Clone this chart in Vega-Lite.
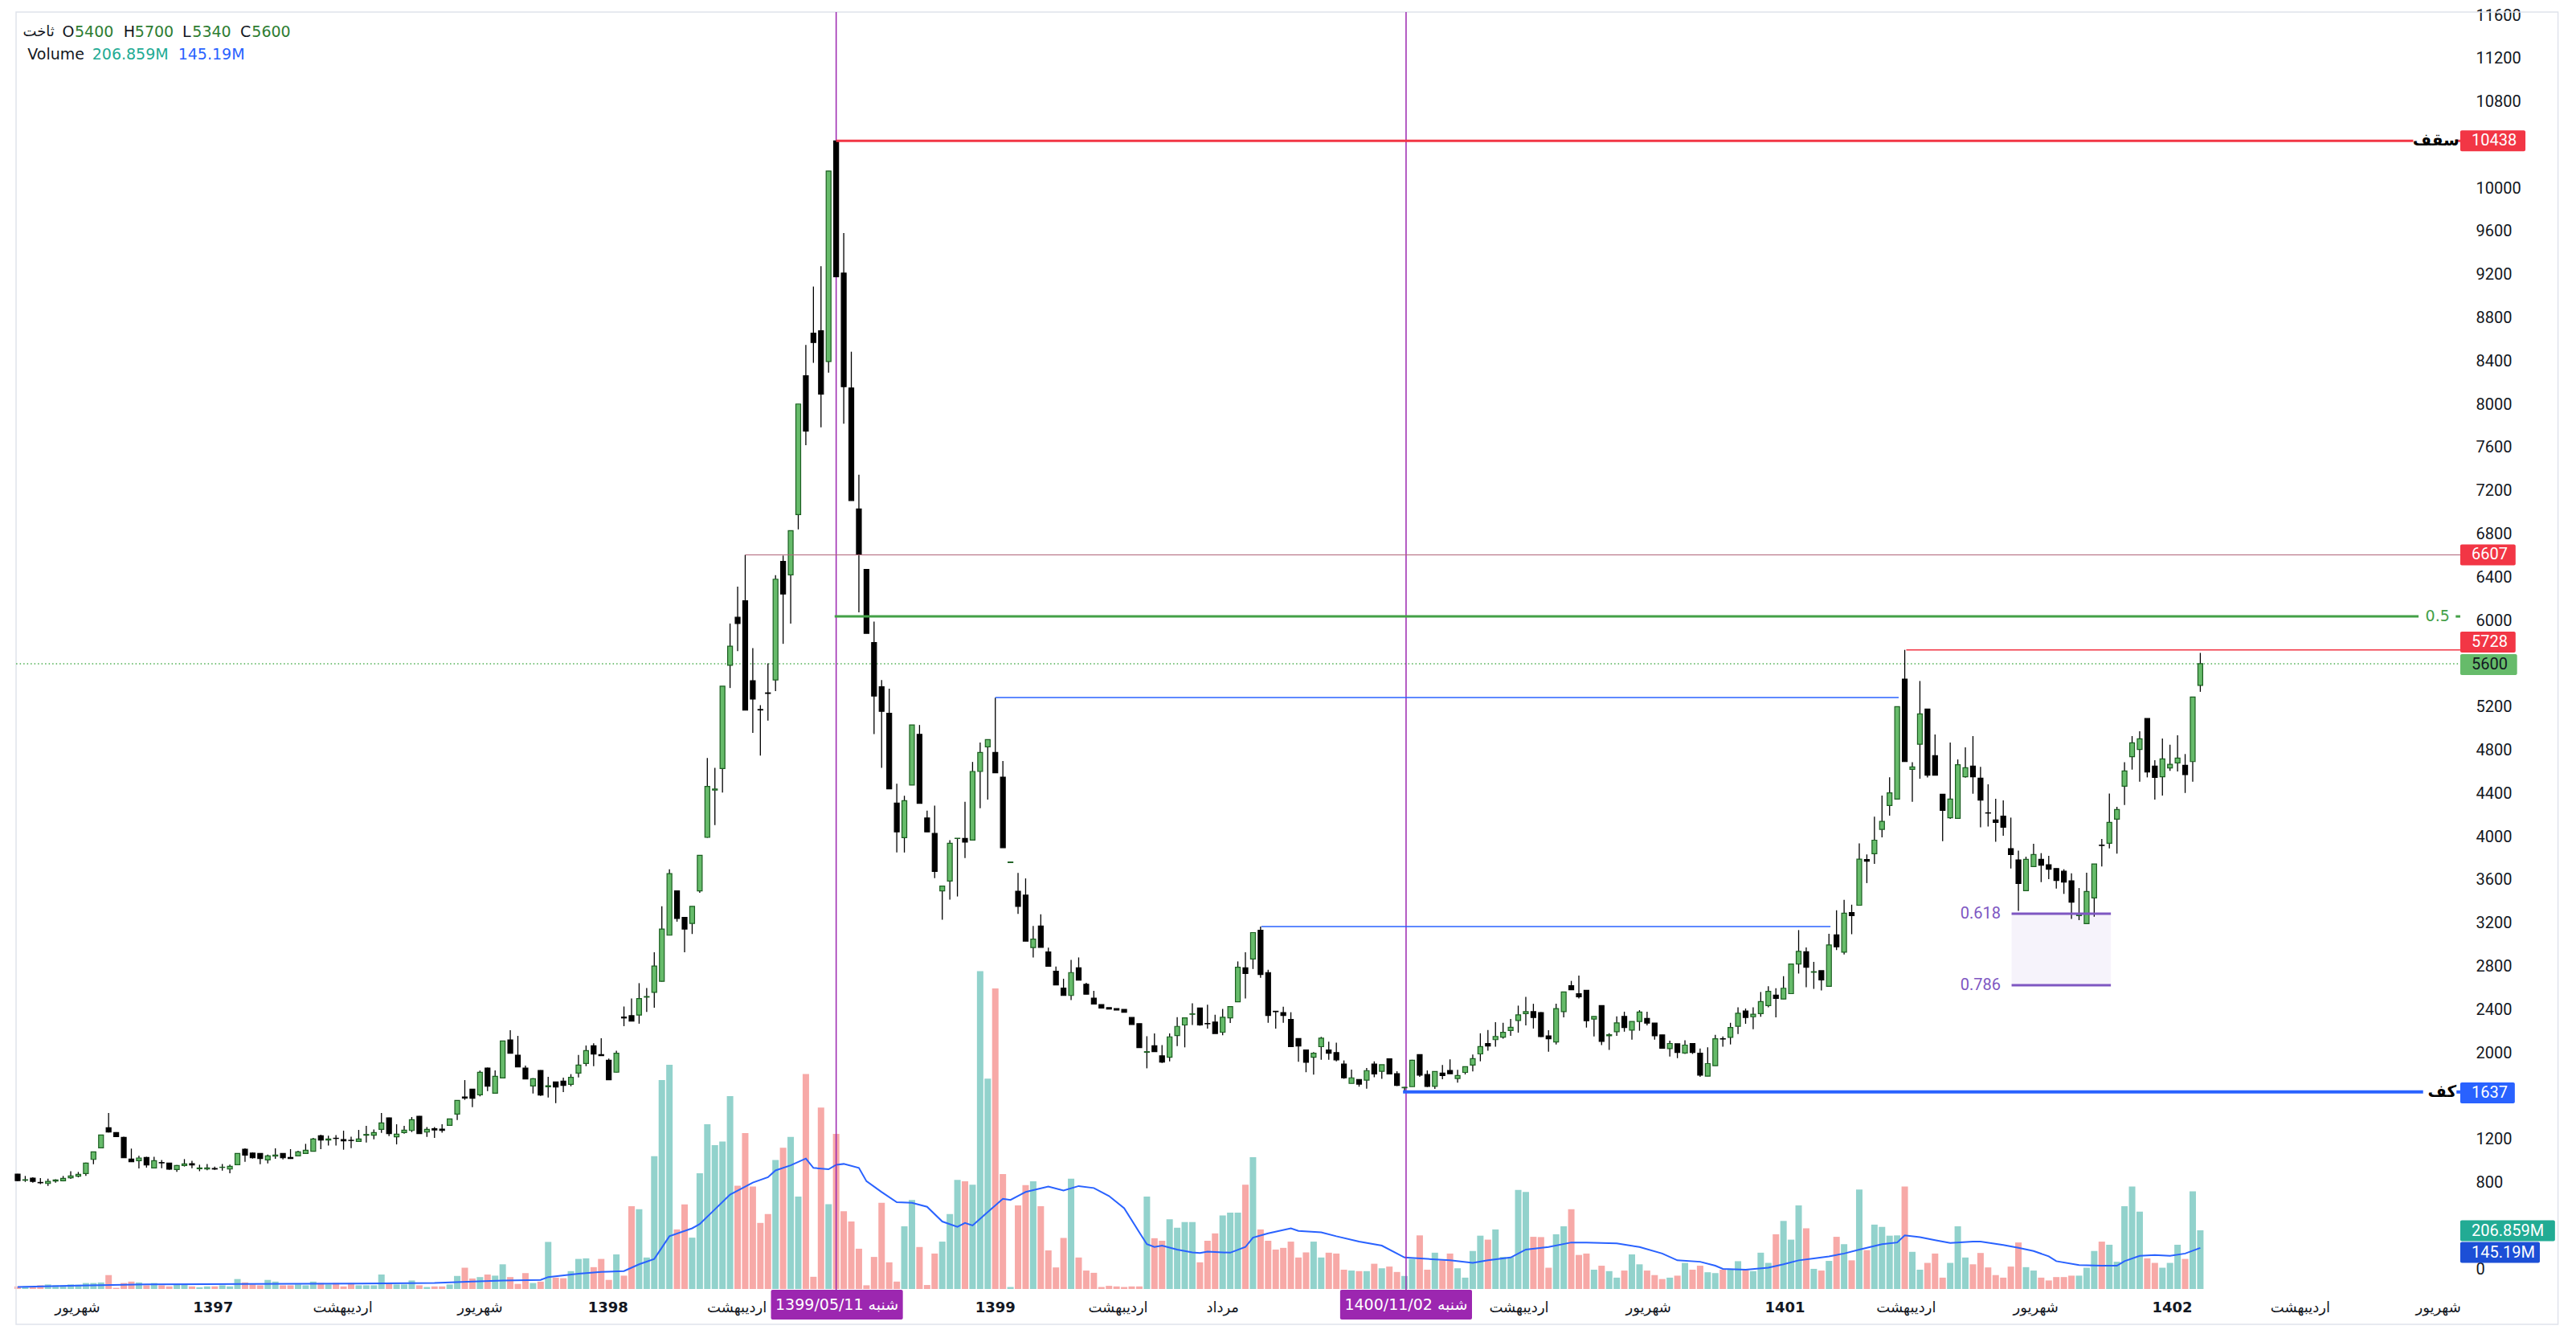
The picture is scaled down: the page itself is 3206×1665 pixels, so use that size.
{
"$schema": "https://vega.github.io/schema/vega-lite/v6.json",
"width": 3051,
"height": 1589,
"autosize": {"type": "none"},
"padding": {"left": 15, "top": 15, "right": 140, "bottom": 61},
"background": "#ffffff",
"config": {"view": {"stroke": null}},
"datasets": {
"candles": [
{"i":0,"o":877,"h":880,"l":812,"c":817,"v":9},
{"i":1,"o":820,"h":860,"l":805,"c":825,"v":9},
{"i":2,"o":840,"h":848,"l":798,"c":810,"v":9},
{"i":3,"o":800,"h":840,"l":785,"c":797,"v":13},
{"i":4,"o":790,"h":835,"l":768,"c":810,"v":16},
{"i":5,"o":813,"h":830,"l":798,"c":823,"v":13},
{"i":6,"o":815,"h":860,"l":810,"c":838,"v":13},
{"i":7,"o":843,"h":904,"l":833,"c":860,"v":16},
{"i":8,"o":858,"h":897,"l":847,"c":875,"v":15},
{"i":9,"o":882,"h":984,"l":860,"c":979,"v":21},
{"i":10,"o":1013,"h":1083,"l":969,"c":1083,"v":21},
{"i":11,"o":1120,"h":1240,"l":1118,"c":1239,"v":23},
{"i":12,"o":1306,"h":1442,"l":1262,"c":1266,"v":49},
{"i":13,"o":1261,"h":1265,"l":1224,"c":1224,"v":4},
{"i":14,"o":1217,"h":1224,"l":1028,"c":1028,"v":21},
{"i":15,"o":1016,"h":1113,"l":991,"c":991,"v":26},
{"i":16,"o":1001,"h":1046,"l":929,"c":1026,"v":23},
{"i":17,"o":1031,"h":1038,"l":937,"c":961,"v":13},
{"i":18,"o":934,"h":1038,"l":934,"c":1001,"v":21},
{"i":19,"o":984,"h":1008,"l":932,"c":981,"v":13},
{"i":20,"o":979,"h":982,"l":917,"c":922,"v":9},
{"i":21,"o":919,"h":961,"l":897,"c":956,"v":16},
{"i":22,"o":956,"h":1016,"l":947,"c":971,"v":16},
{"i":23,"o":974,"h":1001,"l":932,"c":961,"v":9},
{"i":24,"o":927,"h":964,"l":904,"c":934,"v":6},
{"i":25,"o":924,"h":971,"l":912,"c":934,"v":9},
{"i":26,"o":929,"h":947,"l":917,"c":924,"v":9},
{"i":27,"o":939,"h":971,"l":909,"c":941,"v":13},
{"i":28,"o":924,"h":964,"l":884,"c":949,"v":9},
{"i":29,"o":964,"h":1070,"l":962,"c":1068,"v":35},
{"i":30,"o":1108,"h":1115,"l":991,"c":1053,"v":23},
{"i":31,"o":1071,"h":1078,"l":1021,"c":1028,"v":16},
{"i":32,"o":1068,"h":1070,"l":969,"c":1021,"v":13},
{"i":33,"o":1008,"h":1058,"l":976,"c":1046,"v":32},
{"i":34,"o":1043,"h":1115,"l":1018,"c":1053,"v":26},
{"i":35,"o":1068,"h":1070,"l":1013,"c":1028,"v":13},
{"i":36,"o":1031,"h":1108,"l":1018,"c":1021,"v":13},
{"i":37,"o":1046,"h":1093,"l":1043,"c":1083,"v":16},
{"i":38,"o":1068,"h":1157,"l":1066,"c":1098,"v":13},
{"i":39,"o":1088,"h":1212,"l":1086,"c":1202,"v":26},
{"i":40,"o":1232,"h":1242,"l":1108,"c":1192,"v":21},
{"i":41,"o":1192,"h":1232,"l":1142,"c":1202,"v":16},
{"i":42,"o":1209,"h":1239,"l":1142,"c":1207,"v":21},
{"i":43,"o":1197,"h":1279,"l":1103,"c":1185,"v":9},
{"i":44,"o":1190,"h":1224,"l":1118,"c":1188,"v":21},
{"i":45,"o":1180,"h":1286,"l":1177,"c":1202,"v":13},
{"i":46,"o":1237,"h":1323,"l":1170,"c":1244,"v":13},
{"i":47,"o":1237,"h":1291,"l":1199,"c":1261,"v":13},
{"i":48,"o":1291,"h":1442,"l":1259,"c":1351,"v":51},
{"i":49,"o":1398,"h":1400,"l":1229,"c":1252,"v":21},
{"i":50,"o":1222,"h":1338,"l":1152,"c":1247,"v":16},
{"i":51,"o":1261,"h":1323,"l":1252,"c":1284,"v":16},
{"i":52,"o":1281,"h":1405,"l":1266,"c":1380,"v":30},
{"i":53,"o":1413,"h":1415,"l":1252,"c":1252,"v":13},
{"i":54,"o":1266,"h":1313,"l":1222,"c":1291,"v":7},
{"i":55,"o":1296,"h":1313,"l":1212,"c":1286,"v":9},
{"i":56,"o":1294,"h":1338,"l":1261,"c":1281,"v":9},
{"i":57,"o":1328,"h":1390,"l":1326,"c":1388,"v":16},
{"i":58,"o":1432,"h":1560,"l":1378,"c":1559,"v":46},
{"i":59,"o":1591,"h":1747,"l":1564,"c":1581,"v":75},
{"i":60,"o":1663,"h":1665,"l":1497,"c":1579,"v":37},
{"i":61,"o":1611,"h":1834,"l":1596,"c":1819,"v":42},
{"i":62,"o":1859,"h":1862,"l":1646,"c":1690,"v":51},
{"i":63,"o":1626,"h":1836,"l":1624,"c":1782,"v":47},
{"i":64,"o":1767,"h":2109,"l":1765,"c":2109,"v":87},
{"i":65,"o":2119,"h":2208,"l":1995,"c":1995,"v":42},
{"i":66,"o":1978,"h":2156,"l":1869,"c":1869,"v":18},
{"i":67,"o":1859,"h":1881,"l":1757,"c":1757,"v":56},
{"i":68,"o":1693,"h":1765,"l":1623,"c":1760,"v":21},
{"i":69,"o":1836,"h":1838,"l":1601,"c":1608,"v":26},
{"i":70,"o":1685,"h":1777,"l":1586,"c":1695,"v":166},
{"i":71,"o":1730,"h":1732,"l":1534,"c":1683,"v":40},
{"i":72,"o":1737,"h":1770,"l":1636,"c":1698,"v":38},
{"i":73,"o":1708,"h":1802,"l":1690,"c":1772,"v":63},
{"i":74,"o":1812,"h":1980,"l":1772,"c":1886,"v":106},
{"i":75,"o":1901,"h":2067,"l":1876,"c":2020,"v":108},
{"i":76,"o":2065,"h":2087,"l":1876,"c":1988,"v":77},
{"i":77,"o":1983,"h":2134,"l":1970,"c":1973,"v":106},
{"i":78,"o":1931,"h":1946,"l":1750,"c":1750,"v":32},
{"i":79,"o":1820,"h":2019,"l":1818,"c":1996,"v":122},
{"i":80,"o":2330,"h":2428,"l":2246,"c":2322,"v":47},
{"i":81,"o":2343,"h":2502,"l":2290,"c":2292,"v":292},
{"i":82,"o":2349,"h":2644,"l":2269,"c":2502,"v":281},
{"i":83,"o":2515,"h":2599,"l":2377,"c":2520,"v":111},
{"i":84,"o":2559,"h":2929,"l":2417,"c":2803,"v":468},
{"i":85,"o":2661,"h":3355,"l":2659,"c":3145,"v":737},
{"i":86,"o":3088,"h":3697,"l":3086,"c":3657,"v":791},
{"i":87,"o":3498,"h":3500,"l":3213,"c":3242,"v":210},
{"i":88,"o":3253,"h":3255,"l":2929,"c":3145,"v":298},
{"i":89,"o":3196,"h":3355,"l":3099,"c":3355,"v":181},
{"i":90,"o":3498,"h":3827,"l":3480,"c":3827,"v":408},
{"i":91,"o":3993,"h":4727,"l":3990,"c":4465,"v":581},
{"i":92,"o":4430,"h":4636,"l":4106,"c":4440,"v":507},
{"i":93,"o":4630,"h":5392,"l":4408,"c":5392,"v":520},
{"i":94,"o":5585,"h":5972,"l":5375,"c":5762,"v":680},
{"i":95,"o":6029,"h":6314,"l":5716,"c":5972,"v":364},
{"i":96,"o":6183,"h":6607,"l":5170,"c":5170,"v":550},
{"i":97,"o":5443,"h":5745,"l":4960,"c":5273,"v":361},
{"i":98,"o":5176,"h":5216,"l":4749,"c":5172,"v":233},
{"i":99,"o":5330,"h":5603,"l":5074,"c":5325,"v":264},
{"i":100,"o":5449,"h":6420,"l":5347,"c":6382,"v":455},
{"i":101,"o":6547,"h":6600,"l":5784,"c":6245,"v":498},
{"i":102,"o":6422,"h":6831,"l":5972,"c":6831,"v":536},
{"i":103,"o":6979,"h":8003,"l":6843,"c":8003,"v":326},
{"i":104,"o":8265,"h":8550,"l":7622,"c":7753,"v":758},
{"i":105,"o":8658,"h":9090,"l":8384,"c":8572,"v":43},
{"i":106,"o":8680,"h":9278,"l":7787,"c":8094,"v":640},
{"i":107,"o":8396,"h":10159,"l":8293,"c":10159,"v":299},
{"i":108,"o":10438,"h":10438,"l":9181,"c":9181,"v":547},
{"i":109,"o":9215,"h":9585,"l":7821,"c":8163,"v":274},
{"i":110,"o":8151,"h":8487,"l":7110,"c":7110,"v":238},
{"i":111,"o":7031,"h":7349,"l":6075,"c":6609,"v":142},
{"i":112,"o":6473,"h":6473,"l":5881,"c":5881,"v":13},
{"i":113,"o":5796,"h":5989,"l":4948,"c":5301,"v":113},
{"i":114,"o":5386,"h":5449,"l":4636,"c":5159,"v":304},
{"i":115,"o":5142,"h":5369,"l":4442,"c":4442,"v":94},
{"i":116,"o":4311,"h":4490,"l":3853,"c":4044,"v":26},
{"i":117,"o":3990,"h":4378,"l":3853,"c":4332,"v":221},
{"i":118,"o":4478,"h":5033,"l":4478,"c":5033,"v":314},
{"i":119,"o":4946,"h":5033,"l":4308,"c":4308,"v":148},
{"i":120,"o":4172,"h":4241,"l":4044,"c":4044,"v":14},
{"i":121,"o":4029,"h":4287,"l":3616,"c":3677,"v":125},
{"i":122,"o":3498,"h":3543,"l":3231,"c":3543,"v":167},
{"i":123,"o":3589,"h":3968,"l":3416,"c":3938,"v":264},
{"i":124,"o":3983,"h":3985,"l":3446,"c":3985,"v":385},
{"i":125,"o":3983,"h":4323,"l":3801,"c":3950,"v":380},
{"i":126,"o":3968,"h":4691,"l":3968,"c":4603,"v":368},
{"i":127,"o":4603,"h":4870,"l":4263,"c":4779,"v":1121},
{"i":128,"o":4830,"h":4897,"l":4342,"c":4897,"v":742},
{"i":129,"o":4779,"h":5285,"l":4591,"c":4591,"v":1060},
{"i":130,"o":4551,"h":4700,"l":3898,"c":3898,"v":405},
{"i":131,"o":3760,"h":3765,"l":3760,"c":3765,"v":7},
{"i":132,"o":3495,"h":3665,"l":3285,"c":3355,"v":295},
{"i":133,"o":3458,"h":3613,"l":3033,"c":3033,"v":366},
{"i":134,"o":2973,"h":3173,"l":2882,"c":3052,"v":380},
{"i":135,"o":3173,"h":3282,"l":2976,"c":2976,"v":292},
{"i":136,"o":2933,"h":2973,"l":2800,"c":2800,"v":136},
{"i":137,"o":2754,"h":2797,"l":2627,"c":2627,"v":76},
{"i":138,"o":2599,"h":2685,"l":2530,"c":2530,"v":180},
{"i":139,"o":2530,"h":2860,"l":2487,"c":2742,"v":389},
{"i":140,"o":2785,"h":2882,"l":2672,"c":2672,"v":111},
{"i":141,"o":2633,"h":2648,"l":2542,"c":2542,"v":65},
{"i":142,"o":2505,"h":2572,"l":2451,"c":2451,"v":57},
{"i":143,"o":2445,"h":2445,"l":2414,"c":2414,"v":7},
{"i":144,"o":2417,"h":2417,"l":2405,"c":2405,"v":11},
{"i":145,"o":2408,"h":2408,"l":2396,"c":2396,"v":9},
{"i":146,"o":2402,"h":2402,"l":2375,"c":2375,"v":7},
{"i":147,"o":2326,"h":2326,"l":2262,"c":2262,"v":9},
{"i":148,"o":2269,"h":2269,"l":2047,"c":2047,"v":9},
{"i":149,"o":2004,"h":2153,"l":1856,"c":2010,"v":326},
{"i":150,"o":2065,"h":2178,"l":2011,"c":2011,"v":179},
{"i":151,"o":1971,"h":2071,"l":1905,"c":1914,"v":170},
{"i":152,"o":1959,"h":2178,"l":1920,"c":2147,"v":246},
{"i":153,"o":2159,"h":2329,"l":2062,"c":2244,"v":216},
{"i":154,"o":2257,"h":2323,"l":2050,"c":2323,"v":236},
{"i":155,"o":2356,"h":2457,"l":2257,"c":2360,"v":236},
{"i":156,"o":2414,"h":2414,"l":2250,"c":2257,"v":94},
{"i":157,"o":2271,"h":2445,"l":2223,"c":2268,"v":170},
{"i":158,"o":2284,"h":2351,"l":2178,"c":2178,"v":196},
{"i":159,"o":2190,"h":2405,"l":2162,"c":2329,"v":259},
{"i":160,"o":2323,"h":2427,"l":2275,"c":2427,"v":269},
{"i":161,"o":2472,"h":2845,"l":2472,"c":2791,"v":269},
{"i":162,"o":2785,"h":2930,"l":2502,"c":2733,"v":368},
{"i":163,"o":2867,"h":3112,"l":2775,"c":3112,"v":465},
{"i":164,"o":3134,"h":3167,"l":2693,"c":2724,"v":210},
{"i":165,"o":2742,"h":2769,"l":2278,"c":2345,"v":170},
{"i":166,"o":2384,"h":2384,"l":2223,"c":2380,"v":139},
{"i":167,"o":2372,"h":2426,"l":2278,"c":2345,"v":145},
{"i":168,"o":2308,"h":2375,"l":2056,"c":2056,"v":167},
{"i":169,"o":2132,"h":2132,"l":1917,"c":2062,"v":111},
{"i":170,"o":2026,"h":2026,"l":1820,"c":1911,"v":129},
{"i":171,"o":1959,"h":2005,"l":1798,"c":1995,"v":167},
{"i":172,"o":2056,"h":2147,"l":1935,"c":2135,"v":111},
{"i":173,"o":2026,"h":2102,"l":1935,"c":1995,"v":128},
{"i":174,"o":2002,"h":2093,"l":1920,"c":1935,"v":125},
{"i":175,"o":1895,"h":1929,"l":1759,"c":1768,"v":68},
{"i":176,"o":1716,"h":1844,"l":1716,"c":1768,"v":65},
{"i":177,"o":1753,"h":1753,"l":1686,"c":1710,"v":63},
{"i":178,"o":1747,"h":1859,"l":1668,"c":1835,"v":63},
{"i":179,"o":1895,"h":1920,"l":1774,"c":1804,"v":89},
{"i":180,"o":1829,"h":1889,"l":1759,"c":1889,"v":73},
{"i":181,"o":1944,"h":1944,"l":1804,"c":1804,"v":79},
{"i":182,"o":1807,"h":1829,"l":1692,"c":1698,"v":60},
{"i":183,"o":1676,"h":1685,"l":1637,"c":1680,"v":46},
{"i":184,"o":1686,"h":1935,"l":1686,"c":1930,"v":106},
{"i":185,"o":1983,"h":1983,"l":1777,"c":1792,"v":189},
{"i":186,"o":1798,"h":1836,"l":1683,"c":1689,"v":68},
{"i":187,"o":1689,"h":1827,"l":1665,"c":1827,"v":128},
{"i":188,"o":1812,"h":1886,"l":1754,"c":1789,"v":101},
{"i":189,"o":1836,"h":1939,"l":1806,"c":1806,"v":125},
{"i":190,"o":1762,"h":1842,"l":1724,"c":1789,"v":73},
{"i":191,"o":1818,"h":1871,"l":1800,"c":1871,"v":40},
{"i":192,"o":1886,"h":1983,"l":1827,"c":1945,"v":134},
{"i":193,"o":1989,"h":2180,"l":1921,"c":2057,"v":188},
{"i":194,"o":2086,"h":2210,"l":2018,"c":2062,"v":174},
{"i":195,"o":2121,"h":2283,"l":2057,"c":2151,"v":210},
{"i":196,"o":2145,"h":2277,"l":2130,"c":2189,"v":113},
{"i":197,"o":2206,"h":2312,"l":2156,"c":2236,"v":113},
{"i":198,"o":2298,"h":2436,"l":2186,"c":2350,"v":349},
{"i":199,"o":2362,"h":2518,"l":2253,"c":2380,"v":342},
{"i":200,"o":2380,"h":2453,"l":2224,"c":2327,"v":184},
{"i":201,"o":2371,"h":2375,"l":2145,"c":2150,"v":183},
{"i":202,"o":2156,"h":2209,"l":2009,"c":2130,"v":75},
{"i":203,"o":2100,"h":2453,"l":2077,"c":2409,"v":193},
{"i":204,"o":2380,"h":2562,"l":2327,"c":2562,"v":221},
{"i":205,"o":2621,"h":2665,"l":2583,"c":2583,"v":281},
{"i":206,"o":2547,"h":2715,"l":2503,"c":2518,"v":120},
{"i":207,"o":2577,"h":2580,"l":2233,"c":2297,"v":125},
{"i":208,"o":2312,"h":2336,"l":2150,"c":2336,"v":68},
{"i":209,"o":2436,"h":2436,"l":2071,"c":2106,"v":82},
{"i":210,"o":2157,"h":2180,"l":2027,"c":2166,"v":63},
{"i":211,"o":2195,"h":2336,"l":2157,"c":2277,"v":40},
{"i":212,"o":2336,"h":2380,"l":2195,"c":2233,"v":65},
{"i":213,"o":2209,"h":2289,"l":2121,"c":2289,"v":122},
{"i":214,"o":2289,"h":2394,"l":2204,"c":2377,"v":87},
{"i":215,"o":2318,"h":2380,"l":2253,"c":2274,"v":65},
{"i":216,"o":2274,"h":2274,"l":2121,"c":2157,"v":49},
{"i":217,"o":2165,"h":2165,"l":2042,"c":2042,"v":35},
{"i":218,"o":2039,"h":2112,"l":1965,"c":2086,"v":40},
{"i":219,"o":2083,"h":2083,"l":1950,"c":2003,"v":47},
{"i":220,"o":1998,"h":2115,"l":1989,"c":2071,"v":92},
{"i":221,"o":2086,"h":2086,"l":1989,"c":2003,"v":68},
{"i":222,"o":1995,"h":2039,"l":1778,"c":1792,"v":82},
{"i":223,"o":1783,"h":2050,"l":1783,"c":1900,"v":59},
{"i":224,"o":1880,"h":2165,"l":1880,"c":2130,"v":56},
{"i":225,"o":2130,"h":2150,"l":2056,"c":2127,"v":68},
{"i":226,"o":2142,"h":2277,"l":2077,"c":2233,"v":68},
{"i":227,"o":2245,"h":2421,"l":2174,"c":2365,"v":98},
{"i":228,"o":2386,"h":2409,"l":2268,"c":2327,"v":68},
{"i":229,"o":2333,"h":2421,"l":2218,"c":2356,"v":63},
{"i":230,"o":2362,"h":2562,"l":2333,"c":2474,"v":128},
{"i":231,"o":2436,"h":2615,"l":2421,"c":2568,"v":92},
{"i":232,"o":2533,"h":2597,"l":2327,"c":2503,"v":193},
{"i":233,"o":2497,"h":2709,"l":2497,"c":2597,"v":240},
{"i":234,"o":2547,"h":2821,"l":2547,"c":2821,"v":174},
{"i":235,"o":2821,"h":3135,"l":2733,"c":2938,"v":295},
{"i":236,"o":2935,"h":2974,"l":2606,"c":2791,"v":214},
{"i":237,"o":2745,"h":2841,"l":2591,"c":2750,"v":71},
{"i":238,"o":2759,"h":2759,"l":2577,"c":2674,"v":65},
{"i":239,"o":2615,"h":3100,"l":2615,"c":2997,"v":99},
{"i":240,"o":3091,"h":3318,"l":2950,"c":2980,"v":184},
{"i":241,"o":2930,"h":3415,"l":2909,"c":3291,"v":158},
{"i":242,"o":3297,"h":3370,"l":3097,"c":3268,"v":101},
{"i":243,"o":3365,"h":3938,"l":3365,"c":3791,"v":351},
{"i":244,"o":3788,"h":3835,"l":3570,"c":3773,"v":137},
{"i":245,"o":3841,"h":4185,"l":3747,"c":3967,"v":227},
{"i":246,"o":4067,"h":4379,"l":3994,"c":4141,"v":219},
{"i":247,"o":4288,"h":4549,"l":4194,"c":4405,"v":188},
{"i":248,"o":4347,"h":5203,"l":4347,"c":5203,"v":189},
{"i":249,"o":5458,"h":5728,"l":4694,"c":4694,"v":361},
{"i":250,"o":4622,"h":4689,"l":4322,"c":4645,"v":131},
{"i":251,"o":4855,"h":5440,"l":4536,"c":5136,"v":68},
{"i":252,"o":5180,"h":5180,"l":4548,"c":4568,"v":92},
{"i":253,"o":4749,"h":4945,"l":4568,"c":4568,"v":125},
{"i":254,"o":4392,"h":4392,"l":3958,"c":4243,"v":40},
{"i":255,"o":4174,"h":4870,"l":4164,"c":4347,"v":92},
{"i":256,"o":4169,"h":4714,"l":4169,"c":4665,"v":221},
{"i":257,"o":4553,"h":4826,"l":4546,"c":4637,"v":111},
{"i":258,"o":4652,"h":4930,"l":4397,"c":4553,"v":87},
{"i":259,"o":4541,"h":4645,"l":4087,"c":4337,"v":127},
{"i":260,"o":4220,"h":4484,"l":4094,"c":4218,"v":76},
{"i":261,"o":4154,"h":4350,"l":3953,"c":4132,"v":49},
{"i":262,"o":4189,"h":4335,"l":4008,"c":4087,"v":40},
{"i":263,"o":3889,"h":4176,"l":3705,"c":3834,"v":79},
{"i":264,"o":3785,"h":3871,"l":3313,"c":3566,"v":164},
{"i":265,"o":3499,"h":3814,"l":3499,"c":3790,"v":77},
{"i":266,"o":3723,"h":3933,"l":3723,"c":3834,"v":65},
{"i":267,"o":3790,"h":3847,"l":3579,"c":3735,"v":40},
{"i":268,"o":3740,"h":3822,"l":3606,"c":3698,"v":30},
{"i":269,"o":3705,"h":3705,"l":3519,"c":3594,"v":42},
{"i":270,"o":3680,"h":3698,"l":3470,"c":3579,"v":42},
{"i":271,"o":3591,"h":3661,"l":3239,"c":3393,"v":47},
{"i":272,"o":3269,"h":3524,"l":3227,"c":3281,"v":47},
{"i":273,"o":3195,"h":3666,"l":3195,"c":3492,"v":75},
{"i":274,"o":3433,"h":3747,"l":3259,"c":3747,"v":134},
{"i":275,"o":3921,"h":3978,"l":3723,"c":3918,"v":167},
{"i":276,"o":3938,"h":4399,"l":3891,"c":4132,"v":156},
{"i":277,"o":4161,"h":4275,"l":3842,"c":4251,"v":96},
{"i":278,"o":4466,"h":4689,"l":4293,"c":4608,"v":292},
{"i":279,"o":4739,"h":4930,"l":4620,"c":4868,"v":361},
{"i":280,"o":4806,"h":4975,"l":4508,"c":4905,"v":273},
{"i":281,"o":5093,"h":5093,"l":4548,"c":4598,"v":108},
{"i":282,"o":4652,"h":4707,"l":4342,"c":4548,"v":92},
{"i":283,"o":4553,"h":4908,"l":4380,"c":4719,"v":75},
{"i":284,"o":4635,"h":4850,"l":4608,"c":4669,"v":92},
{"i":285,"o":4682,"h":4937,"l":4603,"c":4726,"v":156},
{"i":286,"o":4660,"h":4764,"l":4404,"c":4573,"v":106},
{"i":287,"o":4694,"h":5292,"l":4508,"c":5292,"v":344},
{"i":288,"o":5400,"h":5700,"l":5340,"c":5600,"v":207}
],
"vma": [
{"i":0,"ma":7},{"i":8,"ma":12},{"i":17,"ma":16},{"i":30,"ma":18},{"i":45,"ma":19},{"i":55,"ma":21},{"i":60,"ma":26},{"i":64,"ma":30},{"i":69,"ma":32},{"i":70,"ma":42},{"i":74,"ma":54},{"i":77,"ma":60},{"i":80,"ma":63},{"i":82,"ma":87},{"i":84,"ma":106},{"i":86,"ma":186},{"i":89,"ma":214},{"i":90,"ma":229},{"i":92,"ma":281},{"i":94,"ma":333},{"i":97,"ma":375},{"i":99,"ma":394},{"i":100,"ma":418},{"i":102,"ma":436},{"i":104,"ma":460},{"i":105,"ma":427},{"i":107,"ma":422},{"i":108,"ma":438},{"i":109,"ma":441},{"i":111,"ma":427},{"i":112,"ma":380},{"i":114,"ma":342},{"i":116,"ma":306},{"i":118,"ma":304},{"i":120,"ma":290},{"i":122,"ma":238},{"i":124,"ma":219},{"i":125,"ma":233},{"i":126,"ma":224},{"i":128,"ma":271},{"i":130,"ma":318},{"i":131,"ma":314},{"i":133,"ma":342},{"i":136,"ma":361},{"i":138,"ma":347},{"i":140,"ma":363},{"i":142,"ma":356},{"i":144,"ma":328},{"i":146,"ma":285},{"i":148,"ma":200},{"i":149,"ma":158},{"i":150,"ma":148},{"i":151,"ma":153},{"i":153,"ma":139},{"i":155,"ma":129},{"i":156,"ma":127},{"i":157,"ma":132},{"i":159,"ma":129},{"i":160,"ma":128},{"i":162,"ma":148},{"i":163,"ma":181},{"i":165,"ma":196},{"i":168,"ma":214},{"i":169,"ma":205},{"i":172,"ma":200},{"i":174,"ma":186},{"i":177,"ma":167},{"i":180,"ma":153},{"i":182,"ma":125},{"i":183,"ma":111},{"i":186,"ma":106},{"i":189,"ma":101},{"i":192,"ma":92},{"i":194,"ma":101},{"i":197,"ma":111},{"i":199,"ma":139},{"i":202,"ma":148},{"i":205,"ma":164},{"i":207,"ma":164},{"i":211,"ma":161},{"i":214,"ma":148},{"i":217,"ma":125},{"i":219,"ma":101},{"i":222,"ma":96},{"i":224,"ma":82},{"i":225,"ma":71},{"i":228,"ma":68},{"i":231,"ma":75},{"i":233,"ma":87},{"i":235,"ma":101},{"i":237,"ma":108},{"i":239,"ma":115},{"i":241,"ma":125},{"i":243,"ma":139},{"i":246,"ma":158},{"i":248,"ma":164},{"i":249,"ma":189},{"i":251,"ma":183},{"i":253,"ma":172},{"i":255,"ma":162},{"i":258,"ma":167},{"i":259,"ma":167},{"i":262,"ma":155},{"i":264,"ma":145},{"i":266,"ma":134},{"i":268,"ma":115},{"i":269,"ma":98},{"i":272,"ma":84},{"i":275,"ma":82},{"i":277,"ma":82},{"i":278,"ma":98},{"i":280,"ma":117},{"i":282,"ma":120},{"i":284,"ma":117},{"i":286,"ma":125},{"i":288,"ma":145}
],
"years": [
{"i":25.8,"year":"1397"},{"i":77.9,"year":"1398"},{"i":129,"year":"1399"},{"i":233.2,"year":"1401"},{"i":284.3,"year":"1402"}
],
"months": [
{"i":7.9,"month":"شهریور"},{"i":42.9,"month":"اردیبهشت"},{"i":61,"month":"شهریور"},{"i":94.9,"month":"اردیبهشت"},{"i":145.2,"month":"اردیبهشت"},{"i":159,"month":"مرداد"},{"i":198.1,"month":"اردیبهشت"},{"i":215.2,"month":"شهریور"},{"i":249.2,"month":"اردیبهشت"},{"i":266.3,"month":"شهریور"},{"i":301.2,"month":"اردیبهشت"},{"i":319.4,"month":"شهریور"}
]
},
"layer": [
{"data": {"name": "candles"}, "mark": {"type": "bar", "size": 8},
 "encoding": {
  "x": {"field": "i", "type": "quantitative", "scale": {"domain": [-0.2113, 322.2], "nice": false, "zero": false}, "axis": null},
  "y": {"field": "v", "type": "quantitative", "scale": {"domain": [0, 4503], "nice": false, "zero": false}, "axis": null},
  "y2": {"datum": 0},
  "color": {"condition": {"test": "datum.c >= datum.o", "value": "#92d2cc"}, "value": "#f7a9a7"}}},
{"data": {"name": "vma"}, "mark": {"type": "line", "color": "#2962ff", "strokeWidth": 2},
 "encoding": {
  "x": {"field": "i", "type": "quantitative", "scale": {"domain": [-0.2113, 322.2], "nice": false, "zero": false}, "axis": null},
  "y": {"field": "ma", "type": "quantitative", "scale": {"domain": [0, 4503], "nice": false, "zero": false}, "axis": null}}},
{"data": {"name": "years"}, "mark": {"type": "text", "font": "DejaVu Sans", "fontSize": 18, "fontWeight": "bold", "color": "#131722", "align": "center", "baseline": "middle"},
 "encoding": {
  "x": {"field": "i", "type": "quantitative", "scale": {"domain": [-0.2113, 322.2], "nice": false, "zero": false}, "axis": null},
  "y": {"datum": -364, "type": "quantitative", "scale": {"domain": [-185.9, 11630], "nice": false, "zero": false}, "axis": null},
  "text": {"field": "year"}}},
{"data": {"name": "months"}, "mark": {"type": "text", "font": "DejaVu Sans", "fontSize": 18, "color": "#131722", "align": "center", "baseline": "middle"},
 "encoding": {
  "x": {"field": "i", "type": "quantitative", "scale": {"domain": [-0.2113, 322.2], "nice": false, "zero": false}, "axis": null},
  "y": {"datum": -364, "type": "quantitative", "scale": {"domain": [-185.9, 11630], "nice": false, "zero": false}, "axis": null},
  "text": {"field": "month"}}},
{"data": {"values": [{}]}, "mark": {"type": "rect", "fill": "#ffffff", "fillOpacity": 0, "stroke": "#e0e3eb", "strokeWidth": 1.5},
 "encoding": {
  "x": {"datum": -0.2113, "type": "quantitative", "scale": {"domain": [-0.2113, 322.2], "nice": false, "zero": false}, "axis": null},
  "x2": {"datum": 335.2},
  "y": {"datum": 11630, "type": "quantitative", "scale": {"domain": [-185.9, 11630], "nice": false, "zero": false}, "axis": null},
  "y2": {"datum": -513}}},
{"data": {"values": [{}]}, "mark": {"type": "rect", "color": "#7e57c2", "opacity": 0.07},
 "encoding": {
  "x": {"datum": 263.1, "type": "quantitative", "scale": {"domain": [-0.2113, 322.2], "nice": false, "zero": false}, "axis": null},
  "x2": {"datum": 276.2},
  "y": {"datum": 3287, "type": "quantitative", "scale": {"domain": [-185.9, 11630], "nice": false, "zero": false}, "axis": null},
  "y2": {"datum": 2625}}},
{"data": {"values": [{}]}, "mark": {"type": "rule", "color": "#4caf50", "strokeWidth": 1.5, "strokeDash": [1.5, 3]},
 "encoding": {
  "x": {"datum": -0.2, "type": "quantitative", "scale": {"domain": [-0.2113, 322.2], "nice": false, "zero": false}, "axis": null},
  "x2": {"datum": 322.3},
  "y": {"datum": 5600, "type": "quantitative", "scale": {"domain": [-185.9, 11630], "nice": false, "zero": false}, "axis": null}}},
{"data": {"values": [{}]}, "mark": {"type": "rule", "color": "#9c27b0", "strokeWidth": 1.5},
 "encoding": {
  "x": {"datum": 108.0, "type": "quantitative", "scale": {"domain": [-0.2113, 322.2], "nice": false, "zero": false}, "axis": null},
  "y": {"datum": -193, "type": "quantitative", "scale": {"domain": [-185.9, 11630], "nice": false, "zero": false}, "axis": null},
  "y2": {"datum": 11630}}},
{"data": {"values": [{}]}, "mark": {"type": "rule", "color": "#9c27b0", "strokeWidth": 1.5},
 "encoding": {
  "x": {"datum": 183.2, "type": "quantitative", "scale": {"domain": [-0.2113, 322.2], "nice": false, "zero": false}, "axis": null},
  "y": {"datum": -193, "type": "quantitative", "scale": {"domain": [-185.9, 11630], "nice": false, "zero": false}, "axis": null},
  "y2": {"datum": 11630}}},
{"data": {"name": "candles"}, "mark": {"type": "rule", "color": "#000000", "strokeWidth": 1.3},
 "encoding": {
  "x": {"field": "i", "type": "quantitative", "scale": {"domain": [-0.2113, 322.2], "nice": false, "zero": false}, "axis": null},
  "y": {"field": "l", "type": "quantitative", "scale": {"domain": [-185.9, 11630], "nice": false, "zero": false},
   "axis": {"orient": "right", "values": [0, 800, 1200, 2000, 2400, 2800, 3200, 3600, 4000, 4400, 4800, 5200, 6000, 6400, 6800, 7200, 7600, 8000, 8400, 8800, 9200, 9600, 10000, 10800, 11200, 11600],
    "format": "d", "ticks": false, "domain": false, "grid": false, "title": null, "labelPadding": 15,
    "labelFontSize": 20, "labelFont": "Roboto", "labelColor": "#131722", "labelAlign": "left", "labelBaseline": "middle",
    "labelOverlap": false, "labelBound": false, "labelFlush": false}},
  "y2": {"field": "h"}}},
{"data": {"name": "candles"}, "mark": {"type": "bar", "size": 6, "strokeWidth": 1.2},
 "encoding": {
  "x": {"field": "i", "type": "quantitative", "scale": {"domain": [-0.2113, 322.2], "nice": false, "zero": false}, "axis": null},
  "y": {"field": "o", "type": "quantitative", "scale": {"domain": [-185.9, 11630], "nice": false, "zero": false}, "axis": null},
  "y2": {"field": "c"},
  "fill": {"condition": {"test": "datum.c >= datum.o", "value": "#66bb6a"}, "value": "#000000"},
  "stroke": {"condition": {"test": "datum.c >= datum.o", "value": "#1b5e20"}, "value": "#000000"}}},
{"data": {"values": [{}]}, "mark": {"type": "rule", "color": "#f23645", "strokeWidth": 3},
 "encoding": {
  "x": {"datum": 108.0, "type": "quantitative", "scale": {"domain": [-0.2113, 322.2], "nice": false, "zero": false}, "axis": null},
  "x2": {"datum": 316.1},
  "y": {"datum": 10438, "type": "quantitative", "scale": {"domain": [-185.9, 11630], "nice": false, "zero": false}, "axis": null}}},
{"data": {"values": [{}]}, "mark": {"type": "rule", "color": "#f23645", "strokeWidth": 3},
 "encoding": {
  "x": {"datum": 321.8, "type": "quantitative", "scale": {"domain": [-0.2113, 322.2], "nice": false, "zero": false}, "axis": null},
  "x2": {"datum": 322.3},
  "y": {"datum": 10438, "type": "quantitative", "scale": {"domain": [-185.9, 11630], "nice": false, "zero": false}, "axis": null}}},
{"data": {"values": [{}]}, "mark": {"type": "rule", "color": "#43a047", "strokeWidth": 3},
 "encoding": {
  "x": {"datum": 107.8, "type": "quantitative", "scale": {"domain": [-0.2113, 322.2], "nice": false, "zero": false}, "axis": null},
  "x2": {"datum": 316.8},
  "y": {"datum": 6037.5, "type": "quantitative", "scale": {"domain": [-185.9, 11630], "nice": false, "zero": false}, "axis": null}}},
{"data": {"values": [{}]}, "mark": {"type": "rule", "color": "#43a047", "strokeWidth": 3},
 "encoding": {
  "x": {"datum": 321.7, "type": "quantitative", "scale": {"domain": [-0.2113, 322.2], "nice": false, "zero": false}, "axis": null},
  "x2": {"datum": 322.3},
  "y": {"datum": 6037.5, "type": "quantitative", "scale": {"domain": [-185.9, 11630], "nice": false, "zero": false}, "axis": null}}},
{"data": {"values": [{}]}, "mark": {"type": "rule", "color": "#b06478", "strokeWidth": 1.2},
 "encoding": {
  "x": {"datum": 96.0, "type": "quantitative", "scale": {"domain": [-0.2113, 322.2], "nice": false, "zero": false}, "axis": null},
  "x2": {"datum": 322.3},
  "y": {"datum": 6607, "type": "quantitative", "scale": {"domain": [-185.9, 11630], "nice": false, "zero": false}, "axis": null}}},
{"data": {"values": [{}]}, "mark": {"type": "rule", "color": "#2962ff", "strokeWidth": 1.5},
 "encoding": {
  "x": {"datum": 129.0, "type": "quantitative", "scale": {"domain": [-0.2113, 322.2], "nice": false, "zero": false}, "axis": null},
  "x2": {"datum": 248.2},
  "y": {"datum": 5287, "type": "quantitative", "scale": {"domain": [-185.9, 11630], "nice": false, "zero": false}, "axis": null}}},
{"data": {"values": [{}]}, "mark": {"type": "rule", "color": "#2962ff", "strokeWidth": 1.5},
 "encoding": {
  "x": {"datum": 164.1, "type": "quantitative", "scale": {"domain": [-0.2113, 322.2], "nice": false, "zero": false}, "axis": null},
  "x2": {"datum": 239.2},
  "y": {"datum": 3168, "type": "quantitative", "scale": {"domain": [-185.9, 11630], "nice": false, "zero": false}, "axis": null}}},
{"data": {"values": [{}]}, "mark": {"type": "rule", "color": "#f23645", "strokeWidth": 1.5},
 "encoding": {
  "x": {"datum": 249.2, "type": "quantitative", "scale": {"domain": [-0.2113, 322.2], "nice": false, "zero": false}, "axis": null},
  "x2": {"datum": 322.3},
  "y": {"datum": 5728, "type": "quantitative", "scale": {"domain": [-185.9, 11630], "nice": false, "zero": false}, "axis": null}}},
{"data": {"values": [{}]}, "mark": {"type": "rule", "color": "#2962ff", "strokeWidth": 4},
 "encoding": {
  "x": {"datum": 182.8, "type": "quantitative", "scale": {"domain": [-0.2113, 322.2], "nice": false, "zero": false}, "axis": null},
  "x2": {"datum": 317.4},
  "y": {"datum": 1637, "type": "quantitative", "scale": {"domain": [-185.9, 11630], "nice": false, "zero": false}, "axis": null}}},
{"data": {"values": [{}]}, "mark": {"type": "rule", "color": "#2962ff", "strokeWidth": 4},
 "encoding": {
  "x": {"datum": 321.8, "type": "quantitative", "scale": {"domain": [-0.2113, 322.2], "nice": false, "zero": false}, "axis": null},
  "x2": {"datum": 322.3},
  "y": {"datum": 1637, "type": "quantitative", "scale": {"domain": [-185.9, 11630], "nice": false, "zero": false}, "axis": null}}},
{"data": {"values": [{}]}, "mark": {"type": "rule", "color": "#7e57c2", "strokeWidth": 3},
 "encoding": {
  "x": {"datum": 263.1, "type": "quantitative", "scale": {"domain": [-0.2113, 322.2], "nice": false, "zero": false}, "axis": null},
  "x2": {"datum": 276.2},
  "y": {"datum": 3287, "type": "quantitative", "scale": {"domain": [-185.9, 11630], "nice": false, "zero": false}, "axis": null}}},
{"data": {"values": [{}]}, "mark": {"type": "rule", "color": "#7e57c2", "strokeWidth": 3},
 "encoding": {
  "x": {"datum": 263.1, "type": "quantitative", "scale": {"domain": [-0.2113, 322.2], "nice": false, "zero": false}, "axis": null},
  "x2": {"datum": 276.2},
  "y": {"datum": 2625, "type": "quantitative", "scale": {"domain": [-185.9, 11630], "nice": false, "zero": false}, "axis": null}}},
{"data": {"values": [{}]}, "mark": {"type": "text", "text": "0.618", "font": "Roboto", "fontSize": 20, "color": "#7e57c2", "align": "right", "baseline": "middle"},
 "encoding": {
  "x": {"datum": 261.65, "type": "quantitative", "scale": {"domain": [-0.2113, 322.2], "nice": false, "zero": false}, "axis": null},
  "y": {"datum": 3287, "type": "quantitative", "scale": {"domain": [-185.9, 11630], "nice": false, "zero": false}, "axis": null}}},
{"data": {"values": [{}]}, "mark": {"type": "text", "text": "0.786", "font": "Roboto", "fontSize": 20, "color": "#7e57c2", "align": "right", "baseline": "middle"},
 "encoding": {
  "x": {"datum": 261.65, "type": "quantitative", "scale": {"domain": [-0.2113, 322.2], "nice": false, "zero": false}, "axis": null},
  "y": {"datum": 2625, "type": "quantitative", "scale": {"domain": [-185.9, 11630], "nice": false, "zero": false}, "axis": null}}},
{"data": {"values": [{}]}, "mark": {"type": "text", "text": "سقف", "font": "DejaVu Sans", "fontSize": 20, "fontWeight": "bold", "color": "#000000", "align": "center", "baseline": "middle"},
 "encoding": {
  "x": {"datum": 319.1, "type": "quantitative", "scale": {"domain": [-0.2113, 322.2], "nice": false, "zero": false}, "axis": null},
  "y": {"datum": 10438, "type": "quantitative", "scale": {"domain": [-185.9, 11630], "nice": false, "zero": false}, "axis": null}}},
{"data": {"values": [{}]}, "mark": {"type": "text", "text": "0.5", "font": "DejaVu Sans", "fontSize": 19, "color": "#43a047", "align": "center", "baseline": "middle"},
 "encoding": {
  "x": {"datum": 319.3, "type": "quantitative", "scale": {"domain": [-0.2113, 322.2], "nice": false, "zero": false}, "axis": null},
  "y": {"datum": 6037.5, "type": "quantitative", "scale": {"domain": [-185.9, 11630], "nice": false, "zero": false}, "axis": null}}},
{"data": {"values": [{}]}, "mark": {"type": "text", "text": "کف", "font": "DejaVu Sans", "fontSize": 20, "fontWeight": "bold", "color": "#000000", "align": "center", "baseline": "middle"},
 "encoding": {
  "x": {"datum": 319.9, "type": "quantitative", "scale": {"domain": [-0.2113, 322.2], "nice": false, "zero": false}, "axis": null},
  "y": {"datum": 1637, "type": "quantitative", "scale": {"domain": [-185.9, 11630], "nice": false, "zero": false}, "axis": null}}},
{"data": {"values": [{}]}, "mark": {"type": "rect", "color": "#f23645", "cornerRadius": 2},
 "encoding": {
  "x": {"datum": 322.3, "type": "quantitative", "scale": {"domain": [-0.2113, 322.2], "nice": false, "zero": false}, "axis": null},
  "x2": {"datum": 330.9},
  "y": {"datum": 10341, "type": "quantitative", "scale": {"domain": [-185.9, 11630], "nice": false, "zero": false}, "axis": null},
  "y2": {"datum": 10535}}},
{"data": {"values": [{}]}, "mark": {"type": "rect", "color": "#f23645", "cornerRadius": 2},
 "encoding": {
  "x": {"datum": 322.3, "type": "quantitative", "scale": {"domain": [-0.2113, 322.2], "nice": false, "zero": false}, "axis": null},
  "x2": {"datum": 329.6},
  "y": {"datum": 6510, "type": "quantitative", "scale": {"domain": [-185.9, 11630], "nice": false, "zero": false}, "axis": null},
  "y2": {"datum": 6704}}},
{"data": {"values": [{}]}, "mark": {"type": "rect", "color": "#f23645", "cornerRadius": 2},
 "encoding": {
  "x": {"datum": 322.3, "type": "quantitative", "scale": {"domain": [-0.2113, 322.2], "nice": false, "zero": false}, "axis": null},
  "x2": {"datum": 329.6},
  "y": {"datum": 5703, "type": "quantitative", "scale": {"domain": [-185.9, 11630], "nice": false, "zero": false}, "axis": null},
  "y2": {"datum": 5897}}},
{"data": {"values": [{}]}, "mark": {"type": "rect", "color": "#66bb6a", "cornerRadius": 2},
 "encoding": {
  "x": {"datum": 322.3, "type": "quantitative", "scale": {"domain": [-0.2113, 322.2], "nice": false, "zero": false}, "axis": null},
  "x2": {"datum": 329.8},
  "y": {"datum": 5495, "type": "quantitative", "scale": {"domain": [-185.9, 11630], "nice": false, "zero": false}, "axis": null},
  "y2": {"datum": 5689}}},
{"data": {"values": [{}]}, "mark": {"type": "rect", "color": "#2962ff", "cornerRadius": 2},
 "encoding": {
  "x": {"datum": 322.3, "type": "quantitative", "scale": {"domain": [-0.2113, 322.2], "nice": false, "zero": false}, "axis": null},
  "x2": {"datum": 329.5},
  "y": {"datum": 1532, "type": "quantitative", "scale": {"domain": [-185.9, 11630], "nice": false, "zero": false}, "axis": null},
  "y2": {"datum": 1725}}},
{"data": {"values": [{}]}, "mark": {"type": "rect", "color": "#22ab94", "cornerRadius": 2},
 "encoding": {
  "x": {"datum": 322.3, "type": "quantitative", "scale": {"domain": [-0.2113, 322.2], "nice": false, "zero": false}, "axis": null},
  "x2": {"datum": 334.8},
  "y": {"datum": 256, "type": "quantitative", "scale": {"domain": [-185.9, 11630], "nice": false, "zero": false}, "axis": null},
  "y2": {"datum": 449}}},
{"data": {"values": [{}]}, "mark": {"type": "rect", "color": "#1c4fd6", "cornerRadius": 2},
 "encoding": {
  "x": {"datum": 322.3, "type": "quantitative", "scale": {"domain": [-0.2113, 322.2], "nice": false, "zero": false}, "axis": null},
  "x2": {"datum": 332.8},
  "y": {"datum": 56, "type": "quantitative", "scale": {"domain": [-185.9, 11630], "nice": false, "zero": false}, "axis": null},
  "y2": {"datum": 249}}},
{"data": {"values": [{}]}, "mark": {"type": "text", "text": "10438", "font": "Roboto", "fontSize": 20, "color": "#ffffff", "align": "left", "baseline": "middle"},
 "encoding": {
  "x": {"datum": 323.8, "type": "quantitative", "scale": {"domain": [-0.2113, 322.2], "nice": false, "zero": false}, "axis": null},
  "y": {"datum": 10438, "type": "quantitative", "scale": {"domain": [-185.9, 11630], "nice": false, "zero": false}, "axis": null}}},
{"data": {"values": [{}]}, "mark": {"type": "text", "text": "6607", "font": "Roboto", "fontSize": 20, "color": "#ffffff", "align": "left", "baseline": "middle"},
 "encoding": {
  "x": {"datum": 323.8, "type": "quantitative", "scale": {"domain": [-0.2113, 322.2], "nice": false, "zero": false}, "axis": null},
  "y": {"datum": 6607, "type": "quantitative", "scale": {"domain": [-185.9, 11630], "nice": false, "zero": false}, "axis": null}}},
{"data": {"values": [{}]}, "mark": {"type": "text", "text": "5728", "font": "Roboto", "fontSize": 20, "color": "#ffffff", "align": "left", "baseline": "middle"},
 "encoding": {
  "x": {"datum": 323.8, "type": "quantitative", "scale": {"domain": [-0.2113, 322.2], "nice": false, "zero": false}, "axis": null},
  "y": {"datum": 5800, "type": "quantitative", "scale": {"domain": [-185.9, 11630], "nice": false, "zero": false}, "axis": null}}},
{"data": {"values": [{}]}, "mark": {"type": "text", "text": "5600", "font": "Roboto", "fontSize": 20, "color": "#131722", "align": "left", "baseline": "middle"},
 "encoding": {
  "x": {"datum": 323.8, "type": "quantitative", "scale": {"domain": [-0.2113, 322.2], "nice": false, "zero": false}, "axis": null},
  "y": {"datum": 5592, "type": "quantitative", "scale": {"domain": [-185.9, 11630], "nice": false, "zero": false}, "axis": null}}},
{"data": {"values": [{}]}, "mark": {"type": "text", "text": "1637", "font": "Roboto", "fontSize": 20, "color": "#ffffff", "align": "left", "baseline": "middle"},
 "encoding": {
  "x": {"datum": 323.8, "type": "quantitative", "scale": {"domain": [-0.2113, 322.2], "nice": false, "zero": false}, "axis": null},
  "y": {"datum": 1628, "type": "quantitative", "scale": {"domain": [-185.9, 11630], "nice": false, "zero": false}, "axis": null}}},
{"data": {"values": [{}]}, "mark": {"type": "text", "text": "206.859M", "font": "Roboto", "fontSize": 20, "color": "#ffffff", "align": "left", "baseline": "middle"},
 "encoding": {
  "x": {"datum": 323.8, "type": "quantitative", "scale": {"domain": [-0.2113, 322.2], "nice": false, "zero": false}, "axis": null},
  "y": {"datum": 352, "type": "quantitative", "scale": {"domain": [-185.9, 11630], "nice": false, "zero": false}, "axis": null}}},
{"data": {"values": [{}]}, "mark": {"type": "text", "text": "145.19M", "font": "Roboto", "fontSize": 20, "color": "#ffffff", "align": "left", "baseline": "middle"},
 "encoding": {
  "x": {"datum": 323.8, "type": "quantitative", "scale": {"domain": [-0.2113, 322.2], "nice": false, "zero": false}, "axis": null},
  "y": {"datum": 152, "type": "quantitative", "scale": {"domain": [-185.9, 11630], "nice": false, "zero": false}, "axis": null}}},
{"data": {"values": [{}]}, "mark": {"type": "rect", "color": "#9c27b0", "cornerRadius": 2},
 "encoding": {
  "x": {"datum": 99.4, "type": "quantitative", "scale": {"domain": [-0.2113, 322.2], "nice": false, "zero": false}, "axis": null},
  "x2": {"datum": 116.8},
  "y": {"datum": -468, "type": "quantitative", "scale": {"domain": [-185.9, 11630], "nice": false, "zero": false}, "axis": null},
  "y2": {"datum": -193}}},
{"data": {"values": [{}]}, "mark": {"type": "rect", "color": "#9c27b0", "cornerRadius": 2},
 "encoding": {
  "x": {"datum": 174.5, "type": "quantitative", "scale": {"domain": [-0.2113, 322.2], "nice": false, "zero": false}, "axis": null},
  "x2": {"datum": 191.9},
  "y": {"datum": -468, "type": "quantitative", "scale": {"domain": [-185.9, 11630], "nice": false, "zero": false}, "axis": null},
  "y2": {"datum": -193}}},
{"data": {"values": [{}]}, "mark": {"type": "text", "text": "1399/05/11 شنبه", "font": "DejaVu Sans", "fontSize": 19, "color": "#ffffff", "align": "center", "baseline": "middle"},
 "encoding": {
  "x": {"datum": 108.1, "type": "quantitative", "scale": {"domain": [-0.2113, 322.2], "nice": false, "zero": false}, "axis": null},
  "y": {"datum": -331, "type": "quantitative", "scale": {"domain": [-185.9, 11630], "nice": false, "zero": false}, "axis": null}}},
{"data": {"values": [{}]}, "mark": {"type": "text", "text": "1400/11/02 شنبه", "font": "DejaVu Sans", "fontSize": 19, "color": "#ffffff", "align": "center", "baseline": "middle"},
 "encoding": {
  "x": {"datum": 183.2, "type": "quantitative", "scale": {"domain": [-0.2113, 322.2], "nice": false, "zero": false}, "axis": null},
  "y": {"datum": -331, "type": "quantitative", "scale": {"domain": [-185.9, 11630], "nice": false, "zero": false}, "axis": null}}},
{"data": {"values": [{}]}, "mark": {"type": "text", "text": "ثاخت", "font": "DejaVu Sans", "fontSize": 18, "color": "#131722", "align": "right", "baseline": "middle"},
 "encoding": {
  "x": {"datum": 4.86, "type": "quantitative", "scale": {"domain": [-0.2113, 322.2], "nice": false, "zero": false}, "axis": null},
  "y": {"datum": 11444, "type": "quantitative", "scale": {"domain": [-185.9, 11630], "nice": false, "zero": false}, "axis": null}}},
{"data": {"values": [{}]}, "mark": {"type": "text", "text": "O", "font": "DejaVu Sans", "fontSize": 19, "color": "#131722", "align": "left", "baseline": "middle"},
 "encoding": {
  "x": {"datum": 5.89, "type": "quantitative", "scale": {"domain": [-0.2113, 322.2], "nice": false, "zero": false}, "axis": null},
  "y": {"datum": 11444, "type": "quantitative", "scale": {"domain": [-185.9, 11630], "nice": false, "zero": false}, "axis": null}}},
{"data": {"values": [{}]}, "mark": {"type": "text", "text": "5400", "font": "DejaVu Sans", "fontSize": 19, "color": "#2e7d32", "align": "left", "baseline": "middle"},
 "encoding": {
  "x": {"datum": 7.53, "type": "quantitative", "scale": {"domain": [-0.2113, 322.2], "nice": false, "zero": false}, "axis": null},
  "y": {"datum": 11444, "type": "quantitative", "scale": {"domain": [-185.9, 11630], "nice": false, "zero": false}, "axis": null}}},
{"data": {"values": [{}]}, "mark": {"type": "text", "text": "H", "font": "DejaVu Sans", "fontSize": 19, "color": "#131722", "align": "left", "baseline": "middle"},
 "encoding": {
  "x": {"datum": 13.98, "type": "quantitative", "scale": {"domain": [-0.2113, 322.2], "nice": false, "zero": false}, "axis": null},
  "y": {"datum": 11444, "type": "quantitative", "scale": {"domain": [-185.9, 11630], "nice": false, "zero": false}, "axis": null}}},
{"data": {"values": [{}]}, "mark": {"type": "text", "text": "5700", "font": "DejaVu Sans", "fontSize": 19, "color": "#2e7d32", "align": "left", "baseline": "middle"},
 "encoding": {
  "x": {"datum": 15.46, "type": "quantitative", "scale": {"domain": [-0.2113, 322.2], "nice": false, "zero": false}, "axis": null},
  "y": {"datum": 11444, "type": "quantitative", "scale": {"domain": [-185.9, 11630], "nice": false, "zero": false}, "axis": null}}},
{"data": {"values": [{}]}, "mark": {"type": "text", "text": "L", "font": "DejaVu Sans", "fontSize": 19, "color": "#131722", "align": "left", "baseline": "middle"},
 "encoding": {
  "x": {"datum": 21.74, "type": "quantitative", "scale": {"domain": [-0.2113, 322.2], "nice": false, "zero": false}, "axis": null},
  "y": {"datum": 11444, "type": "quantitative", "scale": {"domain": [-185.9, 11630], "nice": false, "zero": false}, "axis": null}}},
{"data": {"values": [{}]}, "mark": {"type": "text", "text": "5340", "font": "DejaVu Sans", "fontSize": 19, "color": "#2e7d32", "align": "left", "baseline": "middle"},
 "encoding": {
  "x": {"datum": 23.04, "type": "quantitative", "scale": {"domain": [-0.2113, 322.2], "nice": false, "zero": false}, "axis": null},
  "y": {"datum": 11444, "type": "quantitative", "scale": {"domain": [-185.9, 11630], "nice": false, "zero": false}, "axis": null}}},
{"data": {"values": [{}]}, "mark": {"type": "text", "text": "C", "font": "DejaVu Sans", "fontSize": 19, "color": "#131722", "align": "left", "baseline": "middle"},
 "encoding": {
  "x": {"datum": 29.38, "type": "quantitative", "scale": {"domain": [-0.2113, 322.2], "nice": false, "zero": false}, "axis": null},
  "y": {"datum": 11444, "type": "quantitative", "scale": {"domain": [-185.9, 11630], "nice": false, "zero": false}, "axis": null}}},
{"data": {"values": [{}]}, "mark": {"type": "text", "text": "5600", "font": "DejaVu Sans", "fontSize": 19, "color": "#2e7d32", "align": "left", "baseline": "middle"},
 "encoding": {
  "x": {"datum": 30.89, "type": "quantitative", "scale": {"domain": [-0.2113, 322.2], "nice": false, "zero": false}, "axis": null},
  "y": {"datum": 11444, "type": "quantitative", "scale": {"domain": [-185.9, 11630], "nice": false, "zero": false}, "axis": null}}},
{"data": {"values": [{}]}, "mark": {"type": "text", "text": "Volume", "font": "DejaVu Sans", "fontSize": 19, "color": "#131722", "align": "left", "baseline": "middle"},
 "encoding": {
  "x": {"datum": 1.30, "type": "quantitative", "scale": {"domain": [-0.2113, 322.2], "nice": false, "zero": false}, "axis": null},
  "y": {"datum": 11236, "type": "quantitative", "scale": {"domain": [-185.9, 11630], "nice": false, "zero": false}, "axis": null}}},
{"data": {"values": [{}]}, "mark": {"type": "text", "text": "206.859M", "font": "DejaVu Sans", "fontSize": 19, "color": "#22ab94", "align": "left", "baseline": "middle"},
 "encoding": {
  "x": {"datum": 9.83, "type": "quantitative", "scale": {"domain": [-0.2113, 322.2], "nice": false, "zero": false}, "axis": null},
  "y": {"datum": 11236, "type": "quantitative", "scale": {"domain": [-185.9, 11630], "nice": false, "zero": false}, "axis": null}}},
{"data": {"values": [{}]}, "mark": {"type": "text", "text": "145.19M", "font": "DejaVu Sans", "fontSize": 19, "color": "#2962ff", "align": "left", "baseline": "middle"},
 "encoding": {
  "x": {"datum": 21.17, "type": "quantitative", "scale": {"domain": [-0.2113, 322.2], "nice": false, "zero": false}, "axis": null},
  "y": {"datum": 11236, "type": "quantitative", "scale": {"domain": [-185.9, 11630], "nice": false, "zero": false}, "axis": null}}}
],
"resolve": {"scale": {"y": "independent"}}
}
